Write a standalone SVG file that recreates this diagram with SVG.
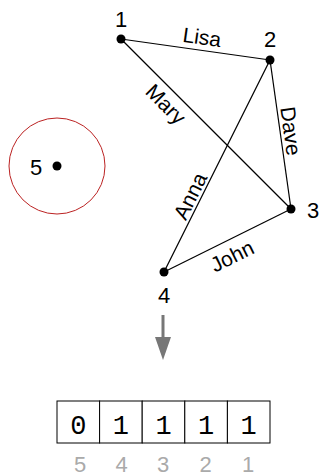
<svg xmlns="http://www.w3.org/2000/svg" width="320" height="476" viewBox="0 0 320 476">
<style>
.e{stroke:#000;stroke-width:1.2;fill:none}
.d{fill:#000}
.n{font-family:"Liberation Sans",Arial,sans-serif;font-size:22px;fill:#000;text-anchor:middle}
.l{font-family:"Liberation Sans",Arial,sans-serif;font-size:21px;fill:#000;text-anchor:middle;dominant-baseline:central}
.c{fill:#fff;stroke:#000;stroke-width:1}
.b{font-family:"Liberation Mono","Courier New",monospace;font-size:27px;fill:#000;text-anchor:middle}
.g{font-family:"Liberation Sans",Arial,sans-serif;font-size:22px;fill:#aaa;text-anchor:middle}
</style>
<rect width="320" height="476" fill="#fff"/>
<g id="edges">
<line class="e" x1="121" y1="39" x2="270" y2="60"/>
<line class="e" x1="121" y1="39" x2="291" y2="209"/>
<line class="e" x1="270" y1="60" x2="291" y2="209"/>
<line class="e" x1="270" y1="60" x2="164" y2="272"/>
<line class="e" x1="164" y1="272" x2="291" y2="209"/>
<text class="l" transform="translate(202,37) rotate(8)">Lisa</text>
<text class="l" transform="translate(166,104) rotate(45)">Mary</text>
<text class="l" transform="translate(291,131) rotate(82)">Dave</text>
<text class="l" transform="translate(190,196) rotate(-63.4)">Anna</text>
<text class="l" transform="translate(232,256) rotate(-26.4)">John</text>
</g>
<g id="node1"><circle class="d" cx="121" cy="39" r="4.5"/><text class="n" x="121" y="27">1</text></g>
<g id="node2"><circle class="d" cx="270" cy="60" r="4.5"/><text class="n" x="270" y="47">2</text></g>
<g id="node3"><circle class="d" cx="291" cy="209" r="4.5"/><text class="n" x="313" y="218">3</text></g>
<g id="node4"><circle class="d" cx="164" cy="272" r="4.5"/><text class="n" x="164" y="303">4</text></g>
<g id="node5"><circle cx="57" cy="166" r="48" fill="none" stroke="#b22" stroke-width="1"/><circle class="d" cx="57" cy="166" r="4.5"/><text class="n" x="36" y="175">5</text></g>
<g id="arrow">
<line x1="163" y1="315" x2="163" y2="340" stroke="#777" stroke-width="3"/>
<polygon points="155,337 171,337 163,360" fill="#777"/>
</g>
<g id="bits">
<rect class="c" x="57" y="401" width="42.6" height="42"/>
<rect class="c" x="99.6" y="401" width="42.6" height="42"/>
<rect class="c" x="142.2" y="401" width="42.6" height="42"/>
<rect class="c" x="184.8" y="401" width="42.6" height="42"/>
<rect class="c" x="227.4" y="401" width="42.6" height="42"/>
<text class="b" x="78.3" y="434">0</text>
<text class="b" x="120.9" y="434">1</text>
<text class="b" x="163.5" y="434">1</text>
<text class="b" x="206.1" y="434">1</text>
<text class="b" x="248.7" y="434">1</text>
<text class="g" x="80" y="472">5</text>
<text class="g" x="121.5" y="472">4</text>
<text class="g" x="163" y="472">3</text>
<text class="g" x="205.5" y="472">2</text>
<text class="g" x="248" y="472">1</text>
</g>
</svg>
